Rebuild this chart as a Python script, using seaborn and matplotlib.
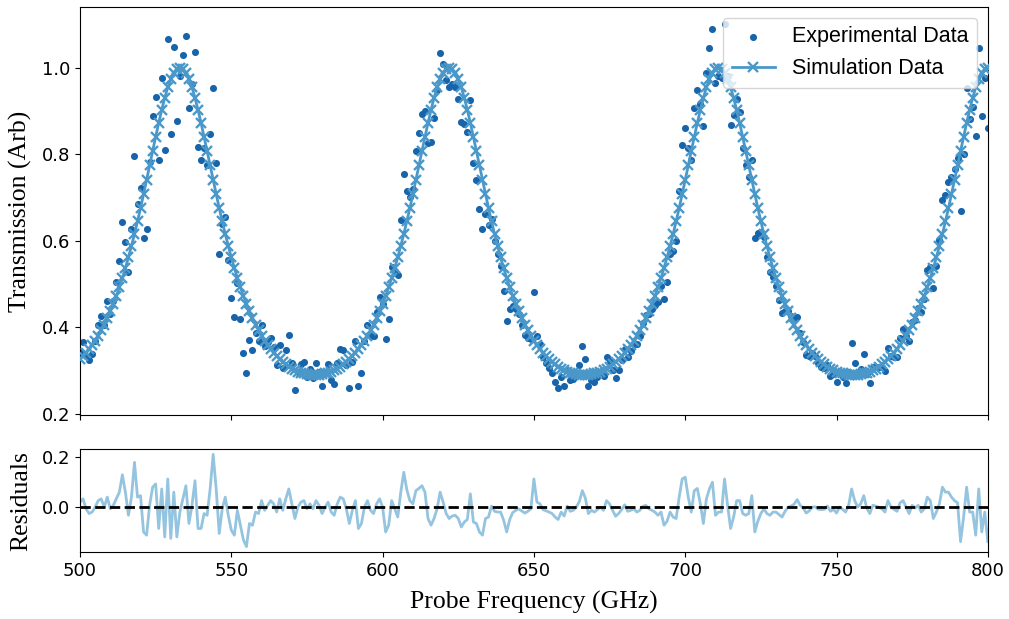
import numpy as np
import pandas as pd
import matplotlib
matplotlib.use("Agg")
import matplotlib.pyplot as plt
import seaborn as sns

# ---------------- data ----------------
freq_ghz = np.arange(500, 801, 1)

sim_transmission = [
    0.326, 0.333, 0.341, 0.349, 0.359, 0.369, 0.380, 0.393, 0.406, 0.421,
    0.437, 0.454, 0.472, 0.492, 0.514, 0.537, 0.561, 0.588, 0.615, 0.645,
    0.675, 0.707, 0.740, 0.774, 0.807, 0.840, 0.872, 0.902, 0.930, 0.954,
    0.973, 0.988, 0.997, 1.000,
    0.997, 0.988, 0.973, 0.954, 0.930, 0.902, 0.872, 0.840, 0.807, 0.774,
    0.740, 0.707, 0.675, 0.645, 0.615, 0.588, 0.561, 0.537, 0.514, 0.492,
    0.472, 0.454, 0.437, 0.421, 0.406, 0.393, 0.380, 0.369, 0.359, 0.349,
    0.341, 0.333, 0.326, 0.319, 0.314, 0.309, 0.304, 0.301, 0.297, 0.295,
    0.293, 0.291, 0.290, 0.290,
    0.290, 0.290, 0.291, 0.293, 0.295, 0.297, 0.301, 0.304, 0.309, 0.314,
    0.319, 0.326, 0.333, 0.341, 0.349, 0.359, 0.369, 0.380, 0.393, 0.406,
    0.421, 0.437, 0.454, 0.472, 0.492, 0.514, 0.537, 0.561, 0.588, 0.615,
    0.645, 0.675, 0.707, 0.740, 0.774, 0.807, 0.840, 0.872, 0.902, 0.930,
    0.954, 0.973, 0.988, 0.997, 1.000,
    0.997, 0.988, 0.973, 0.954, 0.930, 0.902, 0.872, 0.840, 0.807, 0.774,
    0.740, 0.707, 0.675, 0.645, 0.615, 0.588, 0.561, 0.537, 0.514, 0.492,
    0.472, 0.454, 0.437, 0.421, 0.406, 0.393, 0.380, 0.369, 0.359, 0.349,
    0.341, 0.333, 0.326, 0.319, 0.314, 0.309, 0.304, 0.301, 0.297, 0.295,
    0.293, 0.291, 0.290, 0.290,
    0.290, 0.290, 0.291, 0.293, 0.295, 0.297, 0.301, 0.304, 0.309, 0.314,
    0.319, 0.326, 0.333, 0.341, 0.349, 0.359, 0.369, 0.380, 0.393, 0.406,
    0.421, 0.437, 0.454, 0.472, 0.492, 0.514, 0.537, 0.561, 0.588, 0.615,
    0.645, 0.675, 0.707, 0.740, 0.774, 0.807, 0.840, 0.872, 0.902, 0.930,
    0.954, 0.973, 0.988, 0.997, 1.000,
    0.997, 0.988, 0.973, 0.954, 0.930, 0.902, 0.872, 0.840, 0.807, 0.774,
    0.740, 0.707, 0.675, 0.645, 0.615, 0.588, 0.561, 0.537, 0.514, 0.492,
    0.472, 0.454, 0.437, 0.421, 0.406, 0.393, 0.380, 0.369, 0.359, 0.349,
    0.341, 0.333, 0.326, 0.319, 0.314, 0.309, 0.304, 0.301, 0.297, 0.295,
    0.293, 0.291, 0.290, 0.290,
    0.290, 0.290, 0.291, 0.293, 0.295, 0.297, 0.301, 0.304, 0.309, 0.314,
    0.319, 0.326, 0.333, 0.341, 0.349, 0.359, 0.369, 0.380, 0.393, 0.406,
    0.421, 0.437, 0.454, 0.472, 0.492, 0.514, 0.537, 0.561, 0.588, 0.615,
    0.645, 0.675, 0.707, 0.740, 0.774, 0.807, 0.840, 0.872, 0.902, 0.930,
    0.954, 0.973, 0.988, 0.997, 1.000,
]

residuals = [
    0.020, 0.033, -0.007, -0.026, -0.020, 0.000, 0.026, 0.033, 0.000, 0.040,
    -0.007, 0.007, 0.033, 0.060, 0.130, 0.060, -0.033, 0.040, 0.180, 0.040,
    0.046, -0.100, -0.113, 0.007, 0.080, 0.093, -0.086, 0.073, -0.120, 0.113,
    -0.126, 0.060, -0.120, -0.020, 0.033, 0.086, -0.066, 0.007, 0.106, -0.086,
    -0.086, -0.026, -0.033, 0.073, 0.212, 0.073, -0.106, -0.007, 0.040, -0.033,
    -0.093, -0.113, -0.013, -0.073, -0.132, -0.159, -0.066, -0.073, -0.020, -0.026,
    0.026, -0.013, 0.007, 0.026, 0.013, -0.020, 0.033, -0.013, 0.033, 0.073,
    0.013, -0.046, 0.000, 0.020, 0.026, -0.007, 0.013, -0.007, 0.026, 0.007,
    -0.026, 0.000, 0.020, -0.020, -0.033, 0.013, 0.040, 0.033, -0.007, -0.066,
    -0.013, 0.026, -0.086, -0.066, 0.000, 0.026, -0.013, -0.026, 0.013, 0.033,
    0.000, -0.100, -0.073, 0.026, -0.007, -0.040, 0.060, 0.140, 0.070, 0.026,
    0.013, 0.066, 0.075, 0.086, 0.060, -0.046, -0.073, -0.046, -0.007, 0.060,
    0.020, -0.026, -0.046, -0.036, -0.033, -0.046, -0.080, -0.060, -0.050, 0.053,
    -0.060, -0.066, -0.100, -0.113, -0.046, -0.040, 0.004, -0.017, -0.020, -0.020,
    -0.053, -0.100, -0.050, -0.022, -0.013, -0.007, -0.016, -0.024, -0.017, -0.007,
    0.113, 0.020, 0.013, -0.010, -0.015, -0.020, -0.026, -0.040, -0.050, -0.020,
    -0.036, 0.004, -0.017, -0.013, 0.000, 0.022, 0.066, 0.036, -0.026, -0.013,
    -0.020, -0.010, 0.000, -0.013, 0.026, 0.013, -0.013, -0.037, -0.026, -0.010,
    0.009, -0.017, -0.013, -0.007, -0.020, -0.013, 0.003, 0.007, -0.007, -0.013,
    -0.020, -0.033, -0.020, -0.073, -0.057, -0.020, -0.040, -0.046, 0.040, 0.113,
    0.120, 0.040, -0.020, 0.066, 0.075, 0.013, -0.066, 0.033, 0.073, 0.100,
    -0.033, -0.020, -0.020, 0.113, 0.007, -0.086, -0.040, 0.026, 0.026, -0.026,
    -0.033, -0.026, 0.046, -0.100, -0.057, -0.026, -0.007, -0.026, -0.033, -0.020,
    -0.020, -0.030, -0.040, -0.017, 0.000, 0.004, 0.012, 0.030, 0.007, -0.004,
    -0.024, -0.015, 0.000, 0.001, -0.009, -0.010, -0.009, 0.004, -0.017, -0.009,
    -0.024, 0.000, -0.009, -0.020, 0.007, 0.073, 0.026, 0.000, 0.013, 0.046,
    -0.004, -0.026, 0.007, 0.004, -0.001, -0.007, -0.020, 0.026, 0.000, -0.009,
    -0.017, 0.017, 0.026, 0.000, -0.026, 0.007, -0.004, 0.007, -0.020, -0.007,
    0.040, 0.026, -0.046, -0.020, 0.013, 0.080, 0.060, 0.060, 0.040, 0.026,
    0.017, -0.139, -0.040, 0.080, -0.020, -0.020, -0.113, 0.073, -0.100, -0.020,
    -0.139,
]

xticks = [500, 550, 600, 650, 700, 750, 800]
top_yticks = [0.2, 0.4, 0.6, 0.8, 1.0]
res_yticks = [0.0, 0.2]

df = pd.DataFrame({
    "freq": freq_ghz,
    "sim": sim_transmission,
    "resid": residuals,
})
df["exp"] = df["sim"] + df["resid"]

# ---------------- style ----------------
EXP_C = "#1764ab"
SIM_C = "#4a98c9"
RES_C = "#94c4df"
SERIF = ["Liberation Serif", "DejaVu Serif"]

plt.rcParams["font.family"] = ["DejaVu Sans"]
plt.rcParams["xtick.labelsize"] = 13
plt.rcParams["ytick.labelsize"] = 13

fig = plt.figure(figsize=(10.09, 6.19), dpi=100)
ax1 = fig.add_axes([0.0793, 0.3296, 0.8997, 0.6591])
ax2 = fig.add_axes([0.0793, 0.1085, 0.8997, 0.1655], sharex=ax1)

sns.scatterplot(data=df, x="freq", y="exp", ax=ax1, color=EXP_C, s=26,
                linewidth=0, label="Experimental Data", zorder=2)
sns.lineplot(data=df, x="freq", y="sim", ax=ax1, color=SIM_C, lw=2,
             marker="x", markersize=7, markeredgewidth=1.7, markeredgecolor=SIM_C,
             estimator=None, sort=False, label="Simulation Data", zorder=3)

sns.lineplot(data=df, x="freq", y="resid", ax=ax2, color=RES_C, lw=2,
             estimator=None, sort=False, zorder=2)
ax2.axhline(0, color="black", ls="--", lw=2, zorder=3)

ax1.set_xlim(500, 800)
ax1.set_ylim(0.197, 1.14)
ax1.set_yticks(top_yticks)
ax1.set_xticks(xticks)
ax1.tick_params(axis="x", labelbottom=False)
ax1.set_xlabel("")
ax1.set_ylabel("Transmission (Arb)", family=SERIF, fontsize=18.5)

ax2.set_ylim(-0.18, 0.232)
ax2.set_yticks(res_yticks)
ax2.set_xlabel("Probe Frequency (GHz)", family=SERIF, fontsize=18.5)
ax2.set_ylabel("Residuals", family=SERIF, fontsize=18.5)

leg = ax1.legend(loc="upper right", prop={"family": ["Liberation Sans"], "size": 15.5})

ax1.yaxis.set_label_coords(-0.053, 0.5)
ax2.yaxis.set_label_coords(-0.053, 0.5)
ax2.xaxis.set_label_coords(0.5, -0.38)

fig.savefig("out.png", dpi=100)
